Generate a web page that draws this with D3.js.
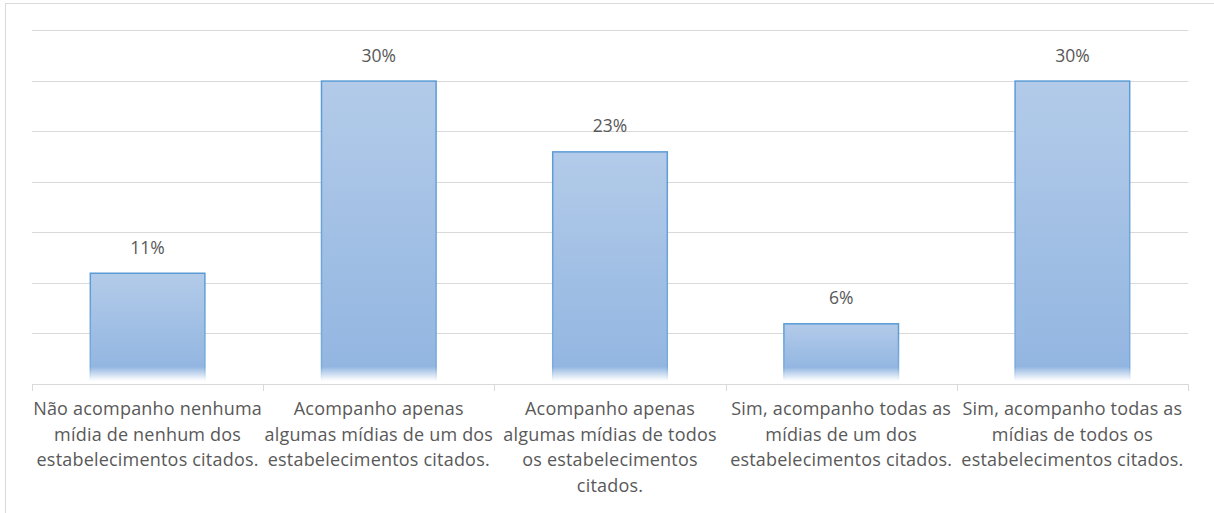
<!DOCTYPE html>
<html>
<head>
<meta charset="utf-8">
<script src="https://cdn.jsdelivr.net/npm/d3@7"></script>
<style>
  html, body { margin: 0; padding: 0; background: #ffffff; }
  svg { display: block; }
  text { font-family: "Open Sans", "Noto Sans", sans-serif; fill: #595959; }
</style>
</head>
<body>
<svg id="chart" width="1214" height="513"></svg>
<script>
// Categories (each label pre-split into the lines it wraps to)
const categoryLines = [
  ["Não acompanho nenhuma", "mídia de nenhum dos", "estabelecimentos citados."],
  ["Acompanho apenas", "algumas mídias de um dos", "estabelecimentos citados."],
  ["Acompanho apenas", "algumas mídias de todos", "os estabelecimentos", "citados."],
  ["Sim, acompanho todas as", "mídias de um dos", "estabelecimentos citados."],
  ["Sim, acompanho todas as", "mídias de todos os", "estabelecimentos citados."]
];
const categories = categoryLines.map(l => l.join(" "));
// Share of respondents, in percent
const values = [11, 30, 23, 6, 30];
// Gridline values
const gridTicks = [5, 10, 15, 20, 25, 30, 35];

const svg = d3.select("#chart");
const W = 1214, H = 513;
const plot = { left: 32, right: 1188, top: 30, bottom: 384 };

// Outer chart frame
svg.append("rect")
  .attr("x", 5.5).attr("y", 3.5)
  .attr("width", W + 20).attr("height", H + 20)
  .attr("fill", "#ffffff")
  .attr("stroke", "#d9d9d9").attr("stroke-width", 1);

const x = d3.scaleBand()
  .domain(categories)
  .range([plot.left, plot.right])
  .paddingInner(0.5)
  .paddingOuter(0.25);

const y = d3.scaleLinear()
  .domain([0, 35])
  .range([plot.bottom, plot.top]);

// Horizontal gridlines
svg.append("g")
  .selectAll("line")
  .data(gridTicks)
  .join("line")
  .attr("x1", plot.left).attr("x2", plot.right)
  .attr("y1", d => Math.round(y(d)) + 0.5)
  .attr("y2", d => Math.round(y(d)) + 0.5)
  .attr("stroke", "#d9d9d9").attr("stroke-width", 1);

// Bar gradients: light-to-mid blue, fading out at the base
const defs = svg.append("defs");
const fadePx = 14;
values.forEach((v, i) => {
  const h = y(0) - y(v);
  const fadeAt = Math.max(0, 1 - fadePx / h);
  const fg = defs.append("linearGradient")
    .attr("id", "fill" + i)
    .attr("x1", 0).attr("y1", 0).attr("x2", 0).attr("y2", 1);
  fg.append("stop").attr("offset", 0).attr("stop-color", "#b3cbe9");
  fg.append("stop").attr("offset", fadeAt).attr("stop-color", "#93b6e1");
  fg.append("stop").attr("offset", 1).attr("stop-color", "#ffffff").attr("stop-opacity", 1);
  const sg = defs.append("linearGradient")
    .attr("id", "stroke" + i)
    .attr("gradientUnits", "userSpaceOnUse")
    .attr("x1", 0).attr("y1", y(v)).attr("x2", 0).attr("y2", y(0) - 3);
  sg.append("stop").attr("offset", 0).attr("stop-color", "#5b9bd5");
  sg.append("stop").attr("offset", fadeAt).attr("stop-color", "#7aacdc");
  sg.append("stop").attr("offset", 1).attr("stop-color", "#ffffff");
});

// Bars
svg.append("g")
  .selectAll("rect")
  .data(values)
  .join("rect")
  .attr("x", (d, i) => x(categories[i]) + 0.5)
  .attr("y", d => y(d) + 0.5)
  .attr("width", x.bandwidth() - 1)
  .attr("height", d => y(0) - y(d) - 4)
  .attr("fill", (d, i) => `url(#fill${i})`)
  .attr("stroke", (d, i) => `url(#stroke${i})`)
  .attr("stroke-width", 1.5);

// Value labels
svg.append("g")
  .selectAll("text")
  .data(values)
  .join("text")
  .attr("x", (d, i) => x(categories[i]) + x.bandwidth() / 2)
  .attr("y", d => y(d) - 19)
  .attr("text-anchor", "middle")
  .style("font-size", "17.5px")
  .text(d => d + "%");

// Category axis with boundary ticks
const axis = svg.append("g");
axis.append("line")
  .attr("x1", plot.left).attr("x2", plot.right)
  .attr("y1", y(0) + 0.5).attr("y2", y(0) + 0.5)
  .attr("stroke", "#d9d9d9").attr("stroke-width", 1);
const step = x.step();
const boundaries = d3.range(categories.length + 1).map(i => plot.left + i * step);
axis.selectAll("line.tick")
  .data(boundaries)
  .join("line")
  .attr("class", "tick")
  .attr("x1", d => Math.round(d) + 0.5).attr("x2", d => Math.round(d) + 0.5)
  .attr("y1", y(0)).attr("y2", y(0) + 7)
  .attr("stroke", "#d9d9d9").attr("stroke-width", 1);

// Wrapped category labels
const lineH = 25.7;
const labels = svg.append("g")
  .selectAll("text")
  .data(categoryLines)
  .join("text")
  .attr("text-anchor", "middle")
  .style("font-size", "18px")
  .style("letter-spacing", "0.2px")
  .attr("transform", (d, i) => `translate(${x(categories[i]) + x.bandwidth() / 2},${y(0) + 31})`);
labels.selectAll("tspan")
  .data(d => d)
  .join("tspan")
  .attr("x", 0)
  .attr("y", (d, j) => j * lineH)
  .text(d => d);
</script>
</body>
</html>
